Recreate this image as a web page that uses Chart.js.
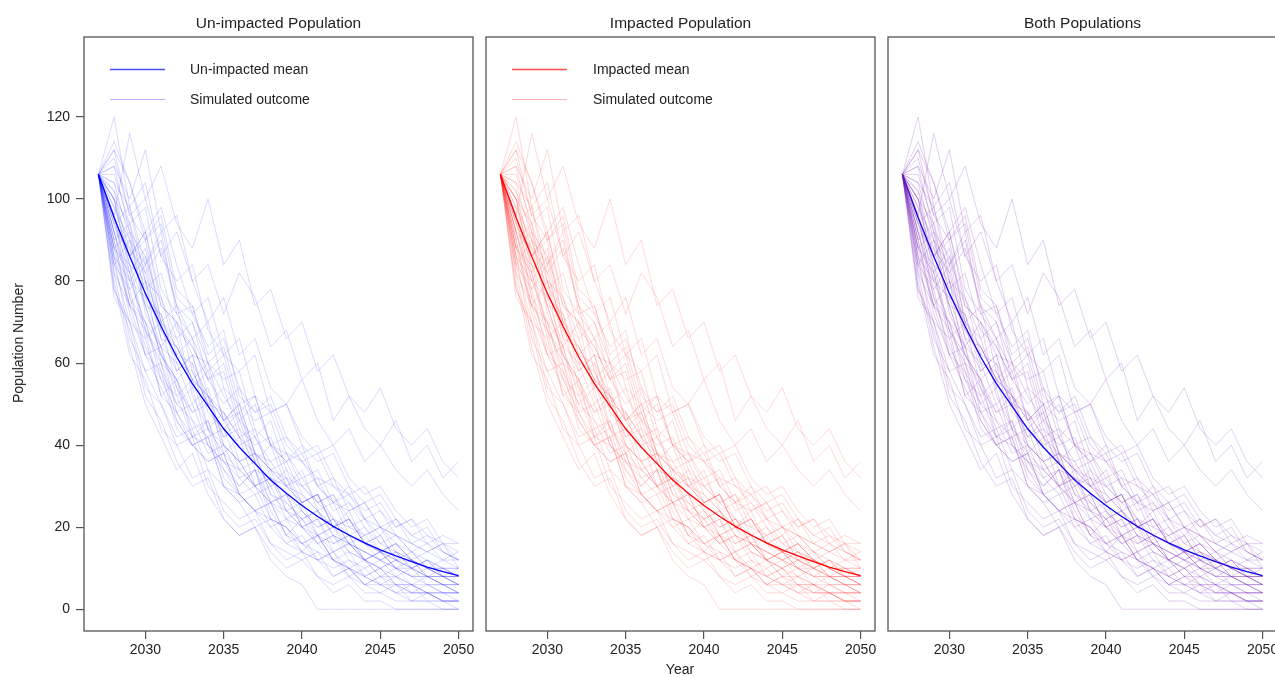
<!DOCTYPE html>
<html>
<head>
<meta charset="utf-8">
<script src="https://cdn.jsdelivr.net/npm/chart.js@4"></script>
<style>
    body { margin: 0; width: 1275px; height: 677px; overflow: hidden; background: #fff; position: relative; font-family: "Liberation Sans", Arial, sans-serif; color: #222; }
    canvas { position: absolute; top: 0; }
    .txt { position: absolute; font-size: 14px; line-height: 16px; white-space: nowrap; }
    .title { position: absolute; font-size: 15.5px; line-height: 18px; text-align: center; top: 14px; }
</style>
</head>
<body>
<canvas id="chart1" width="480" height="677" style="left:0px"></canvas>
<canvas id="chart2" width="410" height="677" style="left:480px"></canvas>
<canvas id="chart3" width="420" height="677" style="left:880px"></canvas>

<div class="title" style="left:84px;width:389px">Un-impacted Population</div>
<div class="title" style="left:486px;width:389px">Impacted Population</div>
<div class="title" style="left:888px;width:389px">Both Populations</div>

<div class="txt" style="left:190px;top:61px">Un-impacted mean</div>
<div class="txt" style="left:190px;top:91px">Simulated outcome</div>
<div class="txt" style="left:593px;top:61px">Impacted mean</div>
<div class="txt" style="left:593px;top:91px">Simulated outcome</div>

<div class="txt" style="left:18px;top:343px;transform:translate(-50%,-50%) rotate(-90deg)">Population Number</div>
<div class="txt" style="left:680px;top:661px;transform:translateX(-50%)">Year</div>

<script>
const years = [2027, 2028, 2029, 2030, 2031, 2032, 2033, 2034, 2035, 2036, 2037, 2038,
    2039, 2040, 2041, 2042, 2043, 2044, 2045, 2046, 2047, 2048, 2049, 2050];

const unimpactedMean = [106, 95.5, 86, 77, 69, 61.5, 55, 49.5, 44, 39.5, 35.5, 31.5,
    28.3, 25.3, 22.6, 20.2, 18.1, 16.2, 14.5, 13, 11.6, 10.3, 9.2, 8.2];
const impactedMean = [106, 95.5, 86, 77, 69, 61.5, 55, 49.5, 44, 39.5, 35.5, 31.5,
    28.3, 25.3, 22.6, 20.2, 18.1, 16.2, 14.5, 13, 11.6, 10.3, 9.2, 8.2];

// simulated runs (the same runs are shown in every panel)
const simRuns = [
    [106,120,98,104,86,92,80,70,76,62,66,54,50,56,46,40,44,36,40,34,30,34,28,24],
    [106,96,116,100,108,94,88,100,84,90,74,78,66,70,58,62,52,48,54,44,40,44,36,32],
    [106,108,100,112,92,96,80,84,72,82,76,64,68,56,60,46,52,44,40,46,36,40,32,36],
    [106,82,64,50,42,34,38,28,22,18,20,12,8,6,0,0,0,0,0,0,0,0,0,0],
    [106,90,74,68,52,56,42,46,34,30,34,22,20,14,18,12,8,10,6,4,6,2,2,2],
    [106,100,82,88,70,64,56,60,46,50,38,36,30,34,24,20,24,16,18,12,10,12,8,6],
    [106,88,92,72,64,70,52,44,48,36,30,34,24,20,22,14,16,12,8,10,6,8,6,4],
    [106,104,90,84,92,72,66,58,62,48,52,40,36,40,30,26,30,22,18,22,16,14,16,10],
    [106,86,74,80,60,50,54,40,36,30,34,24,18,22,16,12,14,8,10,6,6,4,4,4],
    [106,94,98,80,70,74,58,50,54,42,36,40,30,26,28,20,22,16,12,14,10,8,8,6],
    [106,112,96,90,96,78,74,62,66,54,48,52,42,38,40,32,28,30,24,20,22,16,14,12],
    [106,92,78,84,66,58,62,48,44,48,36,30,32,24,20,22,16,14,12,14,10,8,8,8],
    [106,84,90,74,62,56,60,44,38,42,30,26,28,20,16,18,12,10,12,8,6,4,2,0],
    [106,110,96,100,86,80,84,68,62,66,52,48,50,40,36,38,30,26,28,22,18,20,14,12],
    [106,96,80,86,68,62,66,52,46,50,38,34,36,28,24,20,22,16,14,16,12,10,10,8],
    [106,78,70,58,60,46,40,42,30,26,28,20,16,18,12,8,10,6,4,6,2,2,0,0],
    [106,102,86,92,76,66,70,56,50,54,42,36,38,30,26,28,20,18,20,14,12,10,8,6],
    [106,90,94,76,72,58,62,50,42,46,36,30,34,26,28,20,22,16,14,16,12,10,8,8],
    [106,114,104,92,98,84,72,76,62,58,62,48,50,42,38,40,32,28,30,24,20,22,16,14],
    [106,88,82,66,70,54,48,52,38,34,36,26,24,20,22,16,18,12,10,8,10,6,4,4],
    [106,98,86,92,74,70,64,56,60,46,42,46,34,30,32,24,26,20,16,18,14,10,12,10],
    [106,82,74,62,64,48,42,44,32,28,24,26,18,14,12,14,8,6,8,4,2,4,2,2],
    [106,104,98,84,90,74,66,70,54,50,52,40,38,32,34,26,24,26,20,18,14,16,12,14],
    [106,94,86,90,70,66,54,58,46,40,42,34,30,26,28,22,18,20,14,12,12,8,6,6],
    [106,86,80,70,64,52,56,44,40,36,38,28,24,26,18,16,18,12,14,10,8,6,6,4],
    [106,100,94,82,88,74,70,60,64,50,46,48,38,36,30,32,24,26,20,18,16,18,14,12],
    [106,76,70,54,50,40,42,30,26,22,24,16,14,12,14,8,10,6,6,4,4,4,2,2],
    [106,98,90,78,82,68,64,56,58,44,40,42,32,30,26,28,22,18,20,16,14,12,10,8],
    [106,92,80,76,64,60,50,54,40,36,38,28,26,22,24,18,16,14,12,10,8,8,8,6],
    [106,112,104,90,94,76,72,64,68,52,48,50,40,36,38,30,28,24,26,20,22,18,16,16],
    [106,96,84,80,66,64,56,52,48,42,44,32,30,28,24,26,18,16,18,12,10,12,8,8],
    [106,84,70,66,52,48,40,42,30,28,24,22,20,16,18,12,10,8,10,6,6,4,4,4],
    [106,106,94,98,78,72,74,60,56,58,44,40,42,36,32,30,26,22,24,18,16,14,16,12],
    [106,92,88,74,72,60,58,50,48,42,38,34,32,26,28,20,18,16,14,16,12,10,8,10],
    [106,100,88,82,68,64,56,52,42,44,34,32,28,24,20,22,16,14,12,10,12,8,6,6],
    [106,88,74,70,56,52,42,40,34,28,30,22,20,16,14,12,10,8,6,8,4,4,2,2],
    [106,80,62,56,44,40,32,34,24,20,22,16,12,14,8,6,8,4,4,2,2,2,2,2],
    [106,86,66,58,50,42,44,34,30,26,20,22,16,14,12,10,12,8,6,6,4,6,4,4],
    [106,90,72,62,54,46,40,36,38,28,24,26,18,16,18,12,10,12,8,8,6,6,6,6],
    [106,78,68,52,46,36,30,32,22,18,20,14,10,12,8,4,6,2,2,0,0,0,0,0],
    [106,96,76,70,58,50,46,38,40,32,28,30,22,20,16,18,14,12,14,10,8,10,8,8],
    [106,100,84,74,62,56,48,50,40,36,30,32,26,22,24,18,16,18,14,12,14,10,10,10],
    [106,92,76,64,56,48,50,40,36,32,34,26,22,24,18,14,16,12,10,12,8,8,6,4],
    [106,84,78,62,58,44,40,36,38,28,24,20,22,16,12,14,10,6,8,6,4,4,4,2],
    [106,108,92,86,74,70,62,60,52,46,50,40,36,38,30,26,28,22,20,22,18,16,18,16],
    [106,94,82,68,62,54,44,46,36,34,30,26,28,20,18,20,14,12,10,12,10,8,10,8],
    [106,88,84,68,60,56,46,42,44,34,30,32,24,22,18,20,16,12,14,10,10,12,10,10],
    [106,102,92,80,76,62,60,52,46,48,38,34,30,32,26,22,20,22,16,14,12,14,12,12]
];

const yTicks = [0, 20, 40, 60, 80, 100, 120];
const xTicks = [2030, 2035, 2040, 2045, 2050];

const BLUE_SIM = 'rgba(0,0,255,0.15)';
const RED_SIM = 'rgba(255,0,0,0.15)';
const PURPLE_SIM = 'rgba(110,20,180,0.2)';

function toPoints(arr) {
    return arr.map((v, i) => ({ x: years[i], y: v }));
}

function simSets(color) {
    return simRuns.map(run => ({
        data: toPoints(run),
        borderColor: color,
        borderWidth: 1,
        pointRadius: 0,
        tension: 0
    }));
}

function meanSet(arr, color) {
    return {
        data: toPoints(arr),
        borderColor: color,
        borderWidth: 1.3,
        pointRadius: 0,
        tension: 0
    };
}

// box around the plot region (like R's box()) and the little legend keys
function boxPlugin(keys) {
    return {
        id: 'box',
        afterDraw(chart) {
            const a = chart.chartArea;
            const ctx = chart.ctx;
            ctx.save();
            ctx.strokeStyle = '#555';
            ctx.lineWidth = 1.3;
            ctx.strokeRect(a.left, a.top, a.right - a.left, a.bottom - a.top);
            keys.forEach((k, i) => {
                const y = 69.5 + i * 30;
                ctx.strokeStyle = k;
                ctx.lineWidth = i === 0 ? 1.3 : 1;
                ctx.beginPath();
                ctx.moveTo(a.left + 26, y);
                ctx.lineTo(a.left + 81, y);
                ctx.stroke();
            });
            ctx.restore();
        }
    };
}

function crearPanel(id, datasets, showY, padLeft, padRight, keys) {
    const config = {
        type: 'line',
        data: { datasets: datasets },
        options: {
            responsive: false,
            animation: false,
            devicePixelRatio: 1,
            layout: { padding: { top: 37, left: padLeft, right: padRight, bottom: 0 } },
            plugins: { legend: { display: false }, tooltip: { enabled: false } },
            scales: {
                x: {
                    type: 'linear',
                    min: 2026.08,
                    max: 2050.92,
                    afterBuildTicks: (s) => { s.ticks = xTicks.map(v => ({ value: v })); },
                    afterFit: (s) => { s.height = 46; },
                    grid: { drawOnChartArea: false, drawTicks: true, tickLength: 8, color: '#555', lineWidth: 1.2 },
                    border: { display: false },
                    ticks: { color: '#222', padding: 3, maxRotation: 0, autoSkip: false,
                        font: { family: 'Liberation Sans, Arial, sans-serif', size: 14 },
                        callback: (v) => String(v) }
                },
                y: {
                    type: 'linear',
                    display: showY,
                    min: -5.3,
                    max: 139.5,
                    afterBuildTicks: (s) => { s.ticks = yTicks.map(v => ({ value: v })); },
                    afterFit: (s) => { s.width = showY ? 84 : 0; },
                    grid: { drawOnChartArea: false, drawTicks: true, tickLength: 8, color: '#555', lineWidth: 1.2 },
                    border: { display: false },
                    ticks: { color: '#222', padding: 6, autoSkip: false,
                        font: { family: 'Liberation Sans, Arial, sans-serif', size: 14 } }
                }
            }
        },
        plugins: [boxPlugin(keys)]
    };
    return new Chart(document.getElementById(id), config);
}

crearPanel('chart1', simSets(BLUE_SIM).concat([meanSet(unimpactedMean, '#0000ff')]), true, 0, 7,
    ['rgba(0,0,255,0.7)', 'rgba(0,0,255,0.3)']);
crearPanel('chart2', simSets(RED_SIM).concat([meanSet(impactedMean, '#ff0000')]), false, 6, 15,
    ['rgba(255,0,0,0.7)', 'rgba(255,0,0,0.3)']);
crearPanel('chart3', simSets(PURPLE_SIM).concat([meanSet(unimpactedMean, '#0000ff')]), false, 8, 23, []);
</script>
</body>
</html>
